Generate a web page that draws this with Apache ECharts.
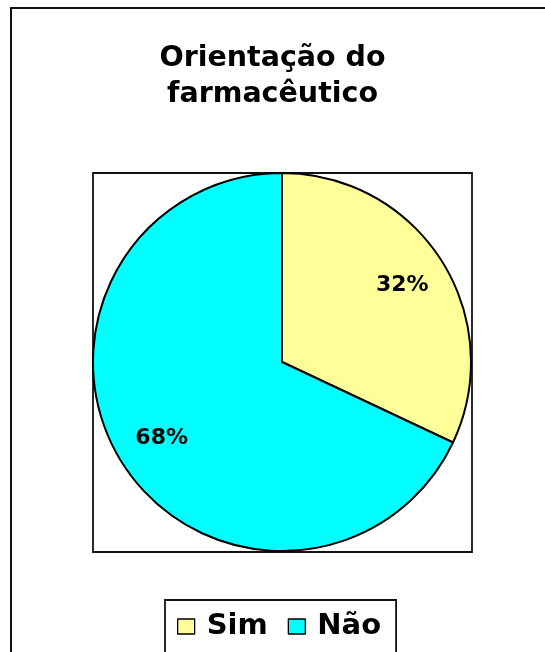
<!DOCTYPE html>
<html>
<head>
<meta charset="utf-8">
<script src="https://cdn.jsdelivr.net/npm/echarts@6/dist/echarts.min.js"></script>
<style>
html,body{margin:0;padding:0;background:#fff;}
#chart{width:545px;height:652px;}
</style>
</head>
<body>
<div id="chart"></div>
<script>
var titleText = "Orientação do\nfarmacêutico";
var categories = ["Sim", "Não"];
var values = [32, 68];
var colors = ["#FFFF99", "#00FFFF"];

var FONT = "DejaVu Sans";
var chart = echarts.init(document.getElementById('chart'), null, {renderer: 'canvas'});

var pieData = categories.map(function (c, i) {
  return { name: c, value: values[i], itemStyle: { color: colors[i] } };
});
var labelData = categories.map(function (c, i) {
  return { name: c, value: values[i] };
});

chart.setOption({
  animation: false,
  backgroundColor: '#ffffff',
  title: {
    text: titleText,
    left: 'center',
    top: 36,
    textStyle: { fontFamily: FONT, fontWeight: 'bold', fontSize: 28.5, lineHeight: 36, color: '#000' }
  },
  legend: {
    data: categories,
    left: 165,
    top: 600,
    padding: [12, 15, 12, 12],
    borderColor: '#111',
    borderWidth: 1.8,
    itemWidth: 17,
    itemHeight: 15,
    itemGap: 20,
    icon: 'rect',
    itemStyle: { borderColor: '#000', borderWidth: 1.3 },
    textStyle: { fontFamily: FONT, fontWeight: 'bold', fontSize: 29, color: '#000', padding: [0, 0, 0, 7] }
  },
  graphic: [
    { type: 'rect', shape: { x: 11, y: 8, width: 600, height: 700 }, style: { fill: 'none', stroke: '#111', lineWidth: 2 }, z: -10 },
    { type: 'rect', shape: { x: 93, y: 173, width: 379, height: 379 }, style: { fill: 'none', stroke: '#111', lineWidth: 1.8 }, z: -10 }
  ],
  series: [
    {
      type: 'pie',
      center: [282, 362],
      radius: [0, 189],
      startAngle: 90,
      clockwise: true,
      data: pieData,
      label: { show: false },
      labelLine: { show: false },
      itemStyle: { borderColor: '#000', borderWidth: 2 },
      emphasis: { disabled: true }
    },
    {
      type: 'pie',
      center: [282, 362],
      radius: [90, 189],
      startAngle: 90,
      clockwise: true,
      silent: true,
      legendHoverLink: false,
      data: labelData,
      itemStyle: { color: 'rgba(0,0,0,0)', borderWidth: 0 },
      label: {
        show: true,
        position: 'inside',
        formatter: '{d}%',
        fontFamily: FONT,
        fontWeight: 'bold',
        fontSize: 22,
        color: '#000'
      },
      labelLine: { show: false },
      emphasis: { disabled: true }
    }
  ]
});
</script>
</body>
</html>
